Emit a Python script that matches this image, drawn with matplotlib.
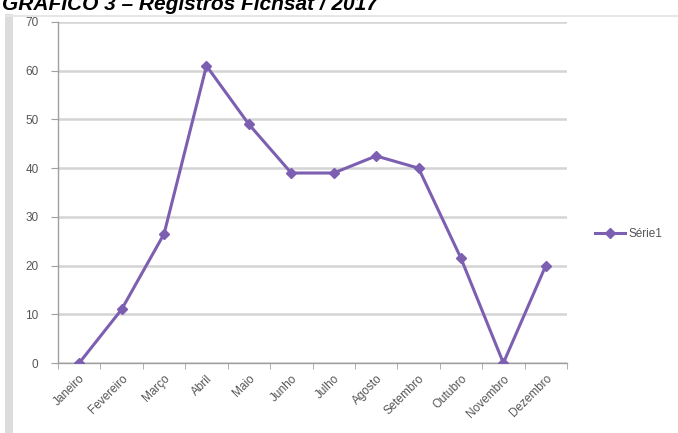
import matplotlib
matplotlib.use("Agg")
import matplotlib.pyplot as plt
from matplotlib.patches import Rectangle

# Monthly registrations, 2017
months = ["Janeiro", "Fevereiro", "Março", "Abril", "Maio", "Junho",
          "Julho", "Agosto", "Setembro", "Outubro", "Novembro", "Dezembro"]
registros = [0, 11, 26.5, 61, 49, 39, 39, 42.5, 40, 21.5, 0, 20]
y_ticks = [0, 10, 20, 30, 40, 50, 60, 70]
series_name = "Série1"
title = "GRÁFICO 3 – Registros Fichsat / 2017"

W, H, DPI = 678, 433, 100
fig = plt.figure(figsize=(W / DPI, H / DPI), dpi=DPI)
fig.patch.set_facecolor("white")

# page frame: grey strip on the left and a faint rule at the top
fig.patches.append(Rectangle((5 / W, 0), 8 / W, 1 - 14 / H, transform=fig.transFigure,
                             facecolor="#dcdcdc", edgecolor="none", zorder=0))
fig.patches.append(Rectangle((5 / W, 1 - 17 / H), 1 - 5 / W, 2 / H, transform=fig.transFigure,
                             facecolor="#e6e6e6", edgecolor="none", zorder=0))

fig.text(2 / W, 1 - 10 / H, title, fontsize=15, fontweight="bold", fontstyle="italic",
         family="Liberation Sans", color="black", va="baseline", ha="left")

ax = fig.add_axes([58 / W, 1 - 363 / H, (567 - 58) / W, (363 - 22) / H])
x = list(range(len(months)))
purple = "#7d5fb2"
ax.plot(x, registros, color=purple, lw=2.2, marker="D", markersize=5.5,
        markerfacecolor=purple, markeredgecolor=purple, label=series_name, zorder=3)

ax.set_xlim(-0.5, len(months) - 0.5)
ax.set_ylim(0, 70)
ax.set_yticks(y_ticks)
ax.set_yticklabels([str(v) for v in y_ticks])
ax.set_xticks(x)
ax.set_xticklabels(months, rotation=45, ha="right", rotation_mode="anchor")
ax.set_xticks([i - 0.5 for i in range(len(months) + 1)], minor=True)

for t in ax.get_yticklabels() + ax.get_xticklabels():
    t.set_family("Liberation Sans")
    t.set_fontsize(8.5)
    t.set_color("#555555")

ax.tick_params(axis="x", which="major", length=0, pad=7)
ax.tick_params(axis="x", which="minor", length=4, color="#a0a0a0", direction="out")
ax.tick_params(axis="y", length=5, color="#a0a0a0", pad=9, direction="out")

ax.grid(axis="y", color="#d4d4d4", lw=1.8, zorder=0)
ax.set_axisbelow(True)
for side in ["top", "right"]:
    ax.spines[side].set_visible(False)
for side in ["left", "bottom"]:
    ax.spines[side].set_color("#a0a0a0")
    ax.spines[side].set_linewidth(1.0)

leg = fig.legend(loc="center left", bbox_to_anchor=(590 / W, 1 - 234 / H), frameon=False,
                 prop={"family": "Liberation Sans", "size": 8.5}, handlelength=2.6,
                 handletextpad=0.3, borderaxespad=0)
for t in leg.get_texts():
    t.set_color("#555555")

fig.savefig("out.png", dpi=DPI)
